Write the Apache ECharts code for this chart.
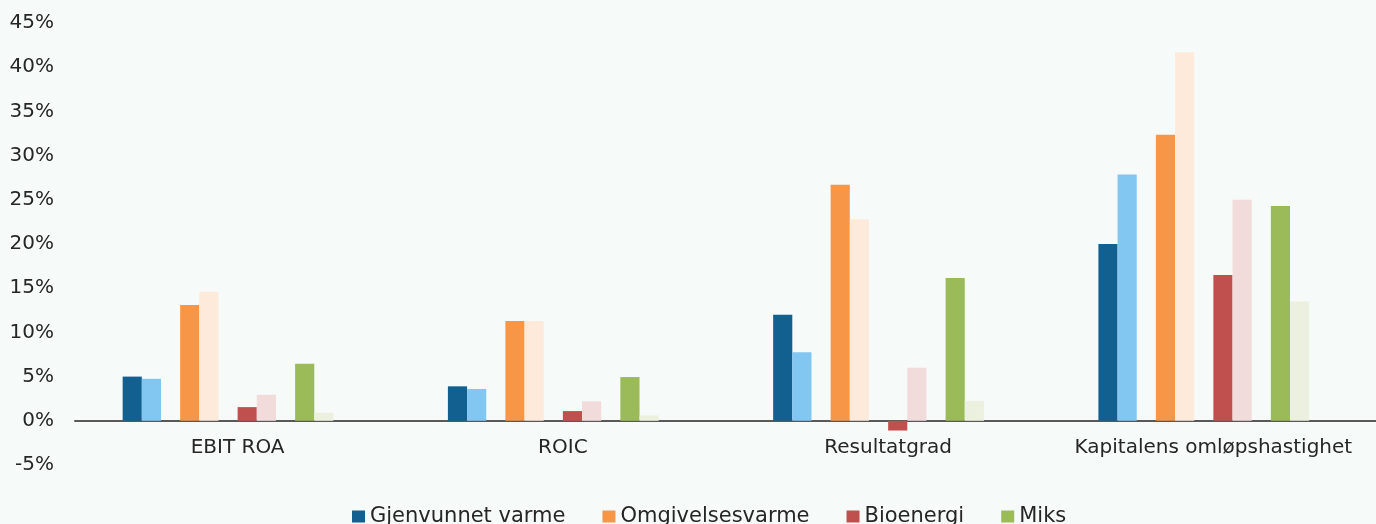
<!DOCTYPE html>
<html>
<head>
<meta charset="utf-8">
<script src="https://cdn.jsdelivr.net/npm/echarts@6/dist/echarts.min.js"></script>
<style>
  html, body { margin: 0; padding: 0; background: #f6faf9; }
  #chart { width: 1376px; height: 524px; }
</style>
</head>
<body>
<div id="chart"></div>
<script>
// kategorier og verdier (prosent)
var categories = ['EBIT ROA', 'ROIC', 'Resultatgrad', 'Kapitalens omløpshastighet'];
var names = ['Gjenvunnet varme', 'Omgivelsesvarme', 'Bioenergi', 'Miks'];
var gjenvunnet  = [5.0, 3.9, 12.0, 20.0];
var gjenvunnet2 = [4.75, 3.6, 7.75, 27.85];
var omgivelse   = [13.1, 11.3, 26.7, 32.35];
var omgivelse2  = [14.6, 11.3, 22.8, 41.7];
var bio         = [1.55, 1.1, -1.1, 16.5];
var bio2        = [2.95, 2.2, 6.0, 25.0];
var miks        = [6.45, 4.95, 16.15, 24.3];
var miks2       = [0.9, 0.6, 2.25, 13.5];

var dark  = ['#11608f', '#f79646', '#c0504d', '#9bbb59'];
var light = ['#82c6f2', '#fdeadb', '#f2dcdb', '#ebf1de'];
var pairs = [[gjenvunnet, gjenvunnet2], [omgivelse, omgivelse2], [bio, bio2], [miks, miks2]];

var series = [];
for (var i = 0; i < pairs.length; i++) {
	series.push({
		name: names[i], type: 'bar', data: pairs[i][0],
		itemStyle: { color: dark[i] }
	});
	series.push({
		name: names[i] + ' 2', type: 'bar', data: pairs[i][1],
		itemStyle: { color: light[i] }
	});
	//tom serie som mellomrom (også en etter siste par)
	series.push({ name: 'gap' + i, type: 'bar', data: [] });
}

var myChart = echarts.init(document.getElementById('chart'));
var option = {
	backgroundColor: '#f6faf9',
	animation: false,
	textStyle: { fontFamily: 'DejaVu Sans' },
	legend: {
		data: names,
		bottom: -8,
		left: 347,
		itemWidth: 13,
		itemHeight: 12,
		itemGap: 37,
		icon: 'rect',
		textStyle: { fontSize: 21, color: '#262626', fontFamily: 'DejaVu Sans' }
	},
	grid: { left: 75, width: 1312, top: 23, bottom: 59, containLabel: false },
	xAxis: {
		type: 'category',
		data: categories,
		axisTick: { show: false },
		axisLine: { onZero: true, lineStyle: { color: '#595959', width: 2 } },
		axisLabel: { fontSize: 20, color: '#262626', margin: -27, interval: 0 }
	},
	yAxis: {
		type: 'value',
		min: -5, max: 45, interval: 5,
		splitLine: { show: false },
		axisLine: { show: false },
		axisLabel: { fontSize: 20, color: '#262626', margin: 21, formatter: '{value}%' }
	},
	series: series.map(function (s) {
		s.barGap = '0%';
		s.barCategoryGap = '29.3%';
		return s;
	})
};
myChart.setOption(option);
</script>
</body>
</html>
